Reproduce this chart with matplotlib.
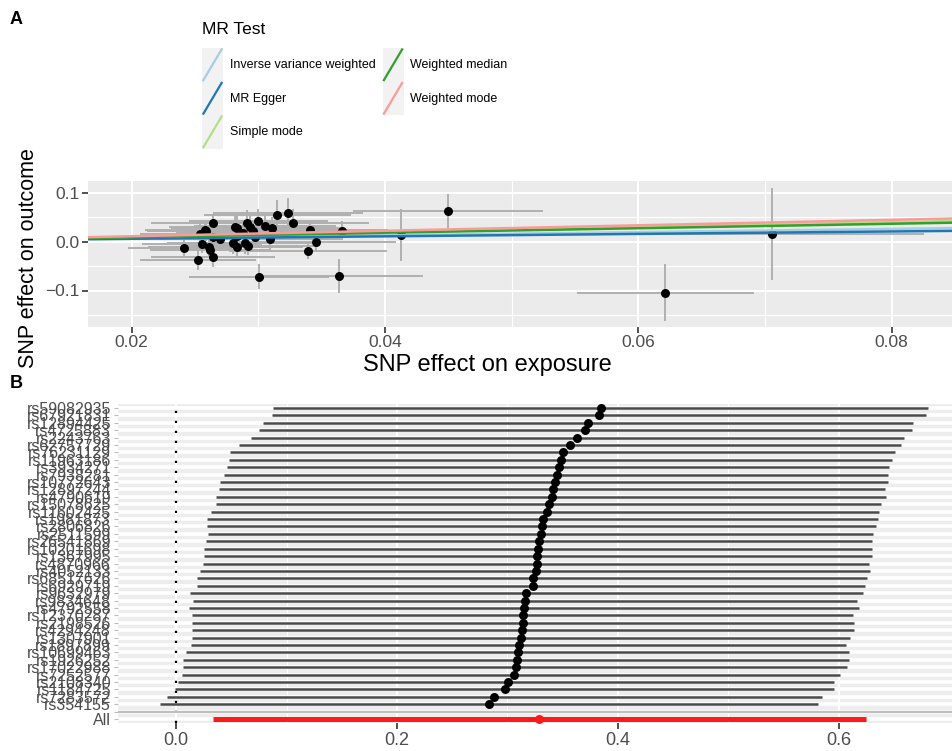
import matplotlib
matplotlib.use('Agg')
import matplotlib.pyplot as plt
from matplotlib.legend_handler import HandlerBase
from matplotlib.lines import Line2D
from matplotlib.patches import Rectangle

plt.rcParams['font.family'] = ['Liberation Sans', 'DejaVu Sans']

# ---- panel A: SNP effects (exposure vs outcome)
bx = [0.02413, 0.02524, 0.02539, 0.02582, 0.02555, 0.0261, 0.02642, 0.02642, 0.02621, 0.02642,
      0.02802, 0.02816, 0.02834, 0.02834, 0.02895, 0.02908, 0.02934, 0.0296, 0.0300, 0.02974,
      0.03005, 0.03105, 0.03092, 0.0315, 0.03234, 0.03274, 0.03406, 0.03453, 0.03392, 0.03661,
      0.03637, 0.04126, 0.045, 0.07053, 0.06214, 0.0288, 0.0292, 0.0270, 0.0305, 0.0259, 0.0283]
by = [-0.0123, -0.0375, 0.0158, 0.024, -0.0053, -0.0115, 0.0377, 0.0102, -0.017, -0.032,
      -0.0033, 0.0307, 0.0274, -0.0115, -0.0033, 0.039, 0.0307, 0.0225, 0.0424, 0.0102,
      -0.0717, 0.0274, 0.0055, 0.0547, 0.0594, 0.039, 0.024, 0.0, -0.019, 0.0225,
      -0.0703, 0.0137, 0.0635, 0.0158, -0.1045, 0.018, -0.008, 0.005, 0.032, 0.021, 0.012]
se_bx = [0.0044, 0.0046, 0.0047, 0.0048, 0.0047, 0.0048, 0.0049, 0.0049, 0.0048, 0.0049,
         0.0052, 0.0052, 0.0052, 0.0052, 0.0053, 0.0054, 0.0054, 0.0055, 0.0055, 0.0055,
         0.0055, 0.0057, 0.0057, 0.0058, 0.0059, 0.0060, 0.0062, 0.0063, 0.0062, 0.0066,
         0.0066, 0.0070, 0.0075, 0.0120, 0.0070, 0.0053, 0.0053, 0.0050, 0.0056, 0.0047, 0.0052]
se_by = [0.016, 0.020, 0.022, 0.020, 0.018, 0.017, 0.020, 0.021, 0.018, 0.020,
         0.022, 0.024, 0.025, 0.020, 0.022, 0.026, 0.025, 0.022, 0.025, 0.023,
         0.026, 0.024, 0.022, 0.030, 0.030, 0.028, 0.020, 0.018, 0.017, 0.019,
         0.035, 0.053, 0.035, 0.095, 0.058, 0.022, 0.020, 0.021, 0.024, 0.020, 0.022]

methods = ['Inverse variance weighted', 'MR Egger', 'Simple mode', 'Weighted median', 'Weighted mode']
method_colors = ['#a6cee3', '#1f78b4', '#b2df8a', '#33a02c', '#fb9a99']
slopes = [0.328, 0.25, 0.50, 0.46, 0.56]
intercepts = [0.0, 0.001, 0.0, 0.0, 0.0]

# ---- panel B: leave-one-out
snps = ['rs59082935', 'rs67921831', 'rs12894425', 'rs4725883', 'rs2243763', 'rs62757729',
        'rs76231129', 'rs11963186', 'rs3934271', 'rs7938281', 'rs10772643', 'rs12897244',
        'rs4790619', 'rs15078625', 'rs11602425', 'rs1981873', 'rs2806826', 'rs2511599',
        'rs26541869', 'rs10201698', 'rs1367995', 'rs4870966', 'rs4052133', 'rs68517626',
        'rs6929719', 'rs9632979', 'rs9834648', 'rs4792558', 'rs12370287', 'rs2198526',
        'rs4294248', 'rs1307901', 'rs1897899', 'rs10699463', 'rs1926252', 'rs17022988',
        'rs7252577', 'rs2108340', 'rs1184725', 'rs7283572', 'rs354155']
loo_lo = [0.088, 0.0866, 0.0784, 0.0754, 0.0676, 0.0573, 0.0489, 0.048, 0.0459, 0.0434,
          0.0398, 0.0389, 0.0359, 0.0359, 0.0314, 0.0283, 0.0283, 0.0292, 0.0271, 0.0256,
          0.0253, 0.0244, 0.0217, 0.0193, 0.0193, 0.0127, 0.0151, 0.012, 0.0142, 0.0142,
          0.0142, 0.0142, 0.0133, 0.009, 0.0066, 0.0066, 0.0057, 0.0021, -0.0009, -0.0079, -0.0145]
loo_b = [0.3843, 0.3828, 0.3726, 0.3701, 0.3632, 0.3566, 0.35, 0.3484, 0.3463, 0.3445,
         0.343, 0.3415, 0.34, 0.3378, 0.3354, 0.3324, 0.3309, 0.33, 0.3288, 0.3279,
         0.327, 0.3264, 0.3256, 0.3234, 0.3228, 0.3167, 0.3158, 0.3149, 0.3143, 0.3137,
         0.3128, 0.3119, 0.3107, 0.3098, 0.3083, 0.3074, 0.3062, 0.3007, 0.2977, 0.2881, 0.2833]
loo_up = [0.6802, 0.6787, 0.6673, 0.6664, 0.6588, 0.6561, 0.6507, 0.6483, 0.6455, 0.6446,
          0.6443, 0.6416, 0.6425, 0.638, 0.6359, 0.635, 0.6332, 0.6311, 0.6296, 0.6296,
          0.6296, 0.6274, 0.628, 0.6251, 0.6238, 0.6214, 0.6166, 0.6178, 0.613, 0.6136,
          0.6136, 0.61, 0.6061, 0.6088, 0.6094, 0.6076, 0.6009, 0.5958, 0.5952, 0.5843, 0.5813]
all_b, all_lo, all_up = 0.3285, 0.0335, 0.6244

GREY_TXT = '#4D4D4D'
W, H = 952, 751


class DiagonalKey(HandlerBase):
    # ggplot style abline key: grey box with a diagonal line
    def create_artists(self, legend, orig_handle, xdescent, ydescent, width, height, fontsize, trans):
        x0, y0 = -xdescent, -ydescent
        box = Rectangle((x0, y0), width, height, facecolor='#F2F2F2', edgecolor='none', transform=trans)
        seg = Line2D([x0 + 1, x0 + width - 1], [y0 + 1, y0 + height - 1],
                     color=orig_handle.get_color(), linewidth=1.6, transform=trans)
        return [box, seg]


fig = plt.figure(figsize=(W / 100, H / 100), dpi=100)

# ---------------- panel A
axA = fig.add_axes([88 / W, 1 - 327 / H, 1 - 88 / W, 146 / H])
axA.set_facecolor('#EBEBEB')
axA.set_xlim(0.01655, 0.08477)
axA.set_ylim(-0.1748, 0.1244)
axA.set_xticks([0.02, 0.04, 0.06, 0.08])
axA.set_xticklabels(['0.02', '0.04', '0.06', '0.08'])
axA.set_yticks([-0.1, 0.0, 0.1])
axA.set_yticklabels(['\u22120.1', '0.0', '0.1'])
axA.set_xticks([0.03, 0.05, 0.07], minor=True)
axA.set_yticks([-0.15, -0.05, 0.05], minor=True)
axA.grid(which='major', color='white', lw=1.5)
axA.grid(which='minor', color='white', lw=0.8)
axA.set_axisbelow(True)
for s in axA.spines.values():
    s.set_visible(False)
axA.tick_params(which='major', length=4, width=1.2, color='#333333', labelsize=12.5,
                labelcolor=GREY_TXT, pad=2)
axA.tick_params(which='minor', length=0)

axA.errorbar(bx, by, xerr=se_bx, yerr=se_by, fmt='none', ecolor='#B0B0B0', elinewidth=1.4,
             capsize=0, zorder=2)
axA.scatter(bx, by, s=42, color='black', zorder=3, linewidths=0)
handles = []
for m, c, b, a in zip(methods, method_colors, slopes, intercepts):
    ln = axA.axline((0, a), slope=b, color=c, lw=1.8, zorder=4)
    handles.append(ln)

axA.set_xlabel('SNP effect on exposure', fontsize=17)
axA.set_ylabel('SNP effect on outcome', fontsize=15.5)
axA.xaxis.set_label_coords((487 - 88) / 864, -0.185)
axA.yaxis.set_label_coords((39 - 88) / 864, 0.47)

fig.text(202 / W, 1 - 29 / H, 'MR Test', fontsize=12.5, va='center', ha='left')
fig.legend(handles, methods, loc='upper left', bbox_to_anchor=(202 / W, 1 - 48 / H), ncol=2,
           frameon=False, handler_map={Line2D: DiagonalKey()},
           prop={'size': 9},
           handlelength=1.68, handleheight=3.75, handletextpad=0.55, columnspacing=0.55,
           labelspacing=0, borderpad=0, borderaxespad=0)

fig.text(10 / W, 1 - 19 / H, 'A', fontsize=13, weight='bold', va='center')
fig.text(10 / W, 1 - 383 / H, 'B', fontsize=13, weight='bold', va='center')

# ---------------- panel B
n = len(snps)
labels = snps + ['', 'All']
ypos = list(range(n))
axB = fig.add_axes([118 / W, 1 - 723.4 / H, 1 - 118 / W, (723.4 - 403.6) / H])
axB.set_facecolor('#EDEDED')
axB.set_xlim(-0.0525, 0.7023)
axB.set_ylim(n + 1.6, -0.6)
axB.set_yticks(range(n + 2))
axB.set_yticklabels(labels)
axB.set_xticks([0.0, 0.2, 0.4, 0.6])
axB.set_xticklabels(['0.0', '0.2', '0.4', '0.6'])
axB.set_xticks([0.1, 0.3, 0.5], minor=True)
axB.grid(which='major', axis='y', color='white', lw=2.6)
axB.grid(which='major', axis='x', color='white', lw=1.5)
axB.grid(which='minor', axis='x', color='white', lw=0.8)
axB.set_axisbelow(True)
for s in axB.spines.values():
    s.set_visible(False)
axB.tick_params(axis='y', length=3, width=0.8, color='#BBBBBB', labelsize=11.5,
                labelcolor=GREY_TXT, pad=2)
axB.tick_params(axis='x', which='major', length=4, width=1.2, color='#333333', labelsize=13,
                labelcolor=GREY_TXT, pad=2)
axB.tick_params(axis='x', which='minor', length=0)

axB.axvline(0, color='black', ls=(0, (1, 3.5)), lw=1.6, zorder=2)
axB.hlines(ypos, loo_lo, loo_up, color='#4A4A4A', lw=1.8, zorder=3)
axB.scatter(loo_b, ypos, s=42, color='black', zorder=4, linewidths=0)
axB.axhline(n, color='#BEBEBE', lw=1.6, zorder=3)
axB.hlines([n + 1], [all_lo], [all_up], color='#FF1A1A', lw=3.6, zorder=3)
axB.scatter([all_b], [n + 1], s=42, color='#FF1A1A', zorder=4, linewidths=0)

fig.savefig('out.png', dpi=100)
